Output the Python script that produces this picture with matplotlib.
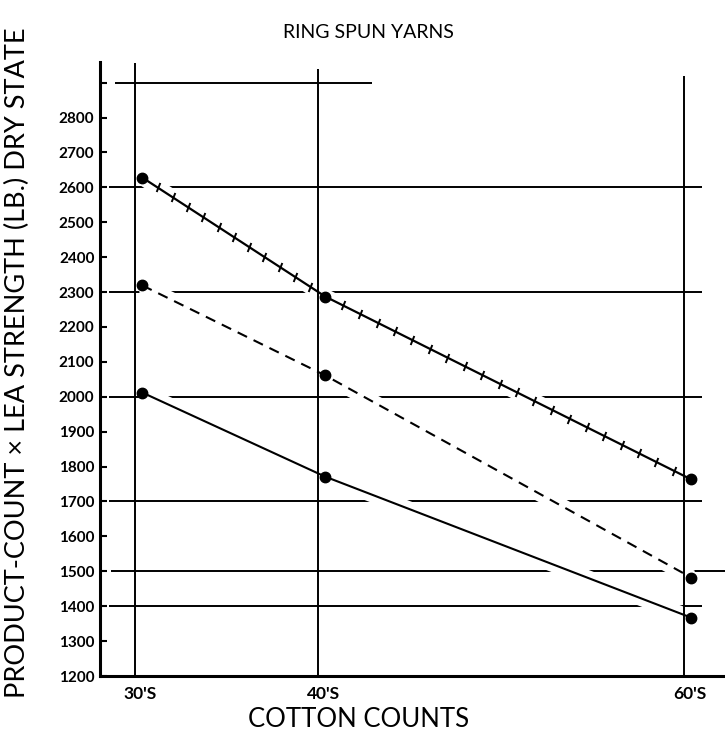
import numpy as np
import matplotlib
matplotlib.use('Agg')
import matplotlib.pyplot as plt

# Data (ring spun yarns)
counts = [30, 40, 60]
count_labels = ["30'S", "40'S", "60'S"]
hatched_series = [2628, 2287, 1763]   # top line with cross ticks
dashed_series = [2319, 2061, 1482]
solid_series = [2012, 1771, 1367]

y_ticks = list(range(1200, 2900, 100))
grid_levels = [2900, 2600, 2300, 2000, 1700, 1500, 1400]

plt.rcParams['font.family'] = ['Lato', 'DejaVu Sans']


def hatch_ticks(ax, xs, ys, counts_per_seg):
    # small cross ticks along a polyline, spaced evenly per segment
    for i, n in enumerate(counts_per_seg):
        t = np.linspace(0, 1, n + 1)[1:-1]
        px = xs[i] + (xs[i + 1] - xs[i]) * t
        py = ys[i] + (ys[i + 1] - ys[i]) * t
        ax.plot(px, py, linestyle='none', marker=(2, 0, -22), markersize=7,
                markeredgewidth=1.4, color='black', zorder=4)


def main():
    fig = plt.figure(figsize=(7.25, 7.34), dpi=100)
    ax = fig.add_axes([0.138, 0.079, 0.862, 0.8365])

    ax.set_xlim(28.09, 62.24)
    ax.set_ylim(1200, 2959)

    # horizontal guide lines (hand drawn look)
    for lvl in grid_levels:
        if lvl == 2900:
            ax.hlines(lvl, 28.9, 42.95, color='black', lw=1.4, zorder=1)
        elif lvl == 1500:
            ax.hlines(lvl, 28.7, 62.24, color='black', lw=1.4, zorder=1)
        else:
            ax.hlines(lvl, 28.6, 61.0, color='black', lw=1.4, zorder=1)

    off = 0.4  # markers sit just right of the count lines
    xs = [c + off for c in counts]

    # white halo that breaks guide lines where the curves cross them
    for ys in (hatched_series, dashed_series, solid_series):
        ax.plot(xs, ys, color='white', lw=11, solid_capstyle='butt', zorder=1.5)

    # vertical lines at each count
    tops = [2955, 2940, 2920]
    for c, top in zip(counts, tops):
        ax.vlines(c, 1200, top, color='black', lw=1.4, zorder=1.7)

    ax.plot(xs, hatched_series, color='black', lw=1.6, zorder=3)
    ax.plot(xs, dashed_series, color='black', lw=1.5, linestyle=(0, (5, 3.5)), zorder=3)
    ax.plot(xs, solid_series, color='black', lw=1.5, zorder=3)
    for ys in (hatched_series, dashed_series, solid_series):
        ax.plot(xs, ys, linestyle='none', marker='o', markersize=7.5,
                color='black', zorder=5)

    hatch_ticks(ax, xs, hatched_series, [12, 21])

    # axes styling
    ax.spines['top'].set_visible(False)
    ax.spines['right'].set_visible(False)
    ax.spines['left'].set_linewidth(2.2)
    ax.spines['bottom'].set_linewidth(2.2)

    ax.set_yticks(y_ticks + [2900])
    ax.set_yticklabels([str(v) for v in y_ticks] + [''])
    ax.tick_params(axis='y', direction='in', length=5, width=1.5, pad=4, labelsize=11)
    for lab in ax.get_yticklabels():
        lab.set_fontweight('bold')

    ax.set_xticks([c + 0.3 for c in counts])
    ax.set_xticklabels(count_labels)
    ax.tick_params(axis='x', length=0, pad=7, labelsize=12.5)
    for lab in ax.get_xticklabels():
        lab.set_fontweight('bold')

    ax.set_xlabel('COTTON COUNTS', fontsize=18.5)
    ax.xaxis.set_label_coords(0.413, -0.051)
    ax.set_ylabel('PRODUCT-COUNT \u00d7 LEA STRENGTH (LB.) DRY STATE', fontsize=19.5)
    ax.yaxis.set_label_coords(-0.112, 0.511)

    fig.text(0.508, 0.956, 'RING SPUN YARNS', ha='center', va='center', fontsize=14)

    fig.savefig('out.png', dpi=100)


if __name__ == "__main__":
    main()
